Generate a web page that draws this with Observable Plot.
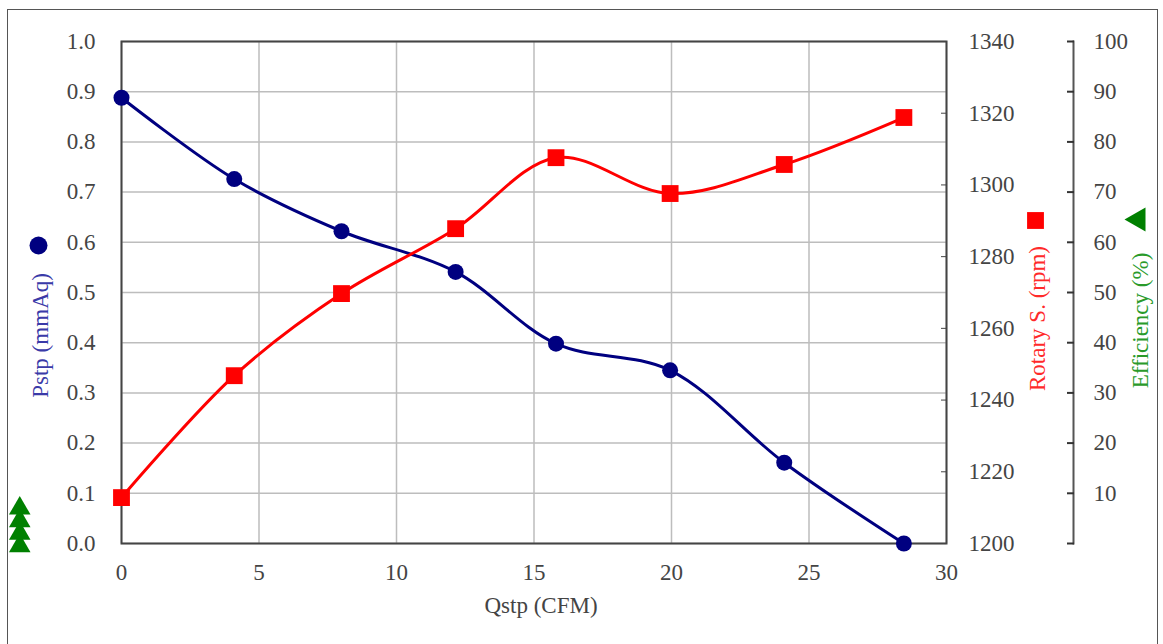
<!DOCTYPE html>
<html>
<head>
<meta charset="utf-8">
<script src="https://cdn.jsdelivr.net/npm/d3@7"></script>
<script src="https://cdn.jsdelivr.net/npm/@observablehq/plot@0.6"></script>
<style>
  html, body { margin: 0; padding: 0; background: #fff; overflow: hidden; }
  #wrap { position: relative; width: 1163px; height: 644px; }
  #border { position: absolute; left: 7px; top: 9px; width: 1151px; height: 700px; border: 1.5px solid #555; box-sizing: border-box; pointer-events: none; }
  #chart { position: absolute; left: 0; top: 0; }
</style>
</head>
<body>
<div id="wrap"><div id="chart"></div><div id="border"></div></div>
<script>
// ---- data ----
const qstp = [0, 4.1, 8.0, 12.15, 15.8, 19.95, 24.1, 28.45];
const pstp = [0.888, 0.726, 0.622, 0.541, 0.398, 0.345, 0.161, 0.0];
const rpm  = [1212.8, 1246.8, 1269.7, 1287.8, 1307.6, 1297.6, 1305.7, 1318.8];
// efficiency points (drawn outside the plot, at the far left)
const effQ = [-3.7, -3.7, -3.7, -3.7];
const eff  = [7, 4.5, 2, -0.5];

const xTicks   = [0, 5, 10, 15, 20, 25, 30];
const yTicks   = [0, 0.1, 0.2, 0.3, 0.4, 0.5, 0.6, 0.7, 0.8, 0.9, 1.0];
const rpmTicks = [1200, 1220, 1240, 1260, 1280, 1300, 1320, 1340];
const effTicks = [0, 10, 20, 30, 40, 50, 60, 70, 80, 90, 100];

const rpmDomain = [1200, 1340];
const effDomain = [0, 100];

// map secondary series onto the primary y scale (0..1)
const rpmToY = d3.scaleLinear().domain(rpmDomain).range([0, 1]);
const effToY = d3.scaleLinear().domain(effDomain).range([0, 1]);

const blueData = qstp.map((q, i) => ({q, v: pstp[i]}));
const redData = qstp.map((q, i) => ({q, v: rpmToY(rpm[i])}));
const greenData = effQ.map((q, i) => ({q, v: effToY(eff[i])}));

const NAVY = "#000080", RED = "#ff0000", GREEN = "#008000";

const chart = Plot.plot({
  width: 1163,
  height: 644,
  marginLeft: 121,
  marginRight: 217,
  marginTop: 41,
  marginBottom: 101,
  x: {domain: [0, 30]},
  y: {domain: [0, 1]},
  style: {fontFamily: "'Liberation Serif', 'DejaVu Serif', serif", fontSize: "23px", background: "transparent", color: "#333"},
  marks: [
    Plot.gridX(xTicks, {stroke: "#bdbdbd", strokeOpacity: 1, strokeWidth: 1.5}),
    Plot.gridY(yTicks, {stroke: "#bdbdbd", strokeOpacity: 1, strokeWidth: 1.5}),
    Plot.frame({stroke: "#444", strokeWidth: 2}),
    Plot.axisX(xTicks, {tickSize: 0, tickPadding: 20, label: null, fill: "#444"}),
    Plot.axisY(yTicks, {anchor: "left", tickSize: 0, tickPadding: 26, tickFormat: d3.format(".1f"), label: null, fill: "#444"}),
    Plot.axisY(rpmTicks.map(rpmToY), {anchor: "right", tickSize: -6, tickPadding: 28, stroke: "#444",
      tickFormat: d => String(Math.round(rpmToY.invert(d))), label: null, fill: "#444"}),
    // efficiency axis (third axis, to the right)
    Plot.frame({anchor: "right", dx: 127, stroke: "#555", strokeWidth: 2}),
    Plot.axisY(effTicks.map(effToY), {anchor: "right", dx: 127, tickSize: -7, tickPadding: 27, stroke: "#333", strokeWidth: 2,
      tickFormat: d => { const e = Math.round(effToY.invert(d)); return e === 0 ? "" : String(e); }, label: null, fill: "#444"}),
    // series
    Plot.line(blueData, {x: "q", y: "v", curve: "catmull-rom", stroke: NAVY, strokeWidth: 3}),
    Plot.dot(blueData, {x: "q", y: "v", r: 8, fill: NAVY, stroke: "none"}),
    Plot.line(redData, {x: "q", y: "v", curve: "catmull-rom", stroke: RED, strokeWidth: 3}),
    Plot.dot(redData, {x: "q", y: "v", r: 9.5, symbol: "square", fill: RED, stroke: "none"}),
    Plot.dot(greenData, {x: "q", y: "v", r: 8, symbol: "triangle", fill: GREEN, stroke: "none"}),
    // axis titles
    Plot.text(["Qstp (CFM)"], {frameAnchor: "bottom", dx: 7, dy: 69, fill: "#444", fontSize: 23}),
    Plot.text(["Pstp (mmAq)"], {frameAnchor: "left", textAnchor: "middle", dx: -81, dy: 43, rotate: -90, fill: "#3a3aa8", fontSize: 23}),
    Plot.dot([0], {frameAnchor: "left", dx: -83, dy: -47, r: 9, fill: NAVY, stroke: "none"}),
    Plot.text(["Rotary S. (rpm)"], {frameAnchor: "right", textAnchor: "middle", dx: 91, dy: 26, rotate: -90, fill: "#ff2a2a", fontSize: 23}),
    Plot.dot([0], {frameAnchor: "right", dx: 89, dy: -72, r: 9.5, symbol: "square", fill: RED, stroke: "none"}),
    Plot.text(["Efficiency (%)"], {frameAnchor: "right", textAnchor: "middle", dx: 194, dy: 28, rotate: -90, fill: "#2a9a2a", fontSize: 23}),
    Plot.dot([0], {frameAnchor: "right", dx: 192, dy: -73, r: 9, symbol: "triangle", rotate: -90, fill: GREEN, stroke: "none"})
  ]
});
document.getElementById("chart").appendChild(chart);
</script>
</body>
</html>
